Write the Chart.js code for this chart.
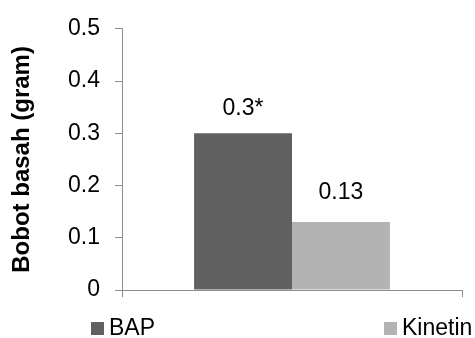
<!DOCTYPE html>
<html>
<head>
<meta charset="utf-8">
<script src="https://cdn.jsdelivr.net/npm/chart.js@4"></script>
<style>
  html, body { margin: 0; padding: 0; background: #fff; }
  #wrap { width: 475px; height: 338px; }
</style>
</head>
<body>
<div id="wrap"><canvas id="bobot"></canvas></div>
<script>
var categories = [''];
var seriesNames = ['BAP', 'Kinetin'];
var bapValues = [0.3];
var kinetinValues = [0.13];
var valueLabels = [['0.3*'], ['0.13']];
var yTicks = [0, 0.1, 0.2, 0.3, 0.4, 0.5];

var fontFam = "'Liberation Sans', Arial, sans-serif";
var colors = ['#606060', '#b3b3b3'];
var axisColor = '#8c8c8c';

// value labels above the bars
var barLabels = {
  id: 'barLabels',
  afterDatasetsDraw: function(chart) {
    var ctx = chart.ctx;
    var gaps = [18, 23];
    ctx.save();
    ctx.font = '23px ' + fontFam;
    ctx.fillStyle = '#000';
    ctx.textAlign = 'center';
    ctx.textBaseline = 'alphabetic';
    chart.data.datasets.forEach(function(ds, i) {
      chart.getDatasetMeta(i).data.forEach(function(bar, j) {
        ctx.fillText(valueLabels[i][j], bar.x, bar.y - gaps[i]);
      });
    });
    ctx.restore();
  }
};

// legend spread like the Excel one
var spreadLegend = {
  id: 'spreadLegend',
  afterDraw: function(chart) {
    var ctx = chart.ctx;
    var xs = [91, 384];
    ctx.save();
    ctx.font = '23px ' + fontFam;
    ctx.textBaseline = 'middle';
    chart.data.datasets.forEach(function(ds, i) {
      ctx.fillStyle = ds.backgroundColor;
      ctx.fillRect(xs[i], 322, 13, 13);
      ctx.fillStyle = '#000';
      ctx.fillText(ds.label, xs[i] + 18, 329);
    });
    ctx.restore();
  }
};

new Chart('bobot', {
  type: 'bar',
  data: {
    labels: categories,
    datasets: [
      { label: seriesNames[0], data: bapValues, backgroundColor: colors[0] },
      { label: seriesNames[1], data: kinetinValues, backgroundColor: colors[1] }
    ]
  },
  options: {
    responsive: true,
    maintainAspectRatio: false,
    animation: false,
    layout: { padding: { left: 0, top: 24, right: 13, bottom: 0 } },
    datasets: { bar: { categoryPercentage: 0.576, barPercentage: 1 } },
    scales: {
      x: {
        grid: { drawOnChartArea: false, drawTicks: true, tickLength: 7, color: axisColor, offset: true },
        border: { color: axisColor, width: 1 },
        ticks: { display: false },
        afterFit: function(scale) { scale.height = 48; }
      },
      y: {
        min: 0,
        max: 0.5,
        afterBuildTicks: function(scale) {
          scale.ticks = yTicks.map(function(v) { return { value: v }; });
        },
        grid: { drawOnChartArea: false, drawTicks: true, tickLength: 7, color: axisColor },
        border: { color: axisColor, width: 1 },
        ticks: {
          padding: 15,
          color: '#000',
          font: { family: fontFam, size: 23 },
          callback: function(v) { return v === 0 ? '0' : v.toFixed(1); }
        },
        title: {
          display: true,
          text: 'Bobot basah (gram)',
          color: '#000',
          font: { family: fontFam, size: 24, weight: 'bold' },
          padding: { top: 8, bottom: 0 }
        },
        afterFit: function(scale) { scale.width = 122; }
      }
    },
    plugins: {
      legend: { display: false },
      tooltip: { enabled: false }
    }
  },
  plugins: [barLabels, spreadLegend]
});
</script>
</body>
</html>
